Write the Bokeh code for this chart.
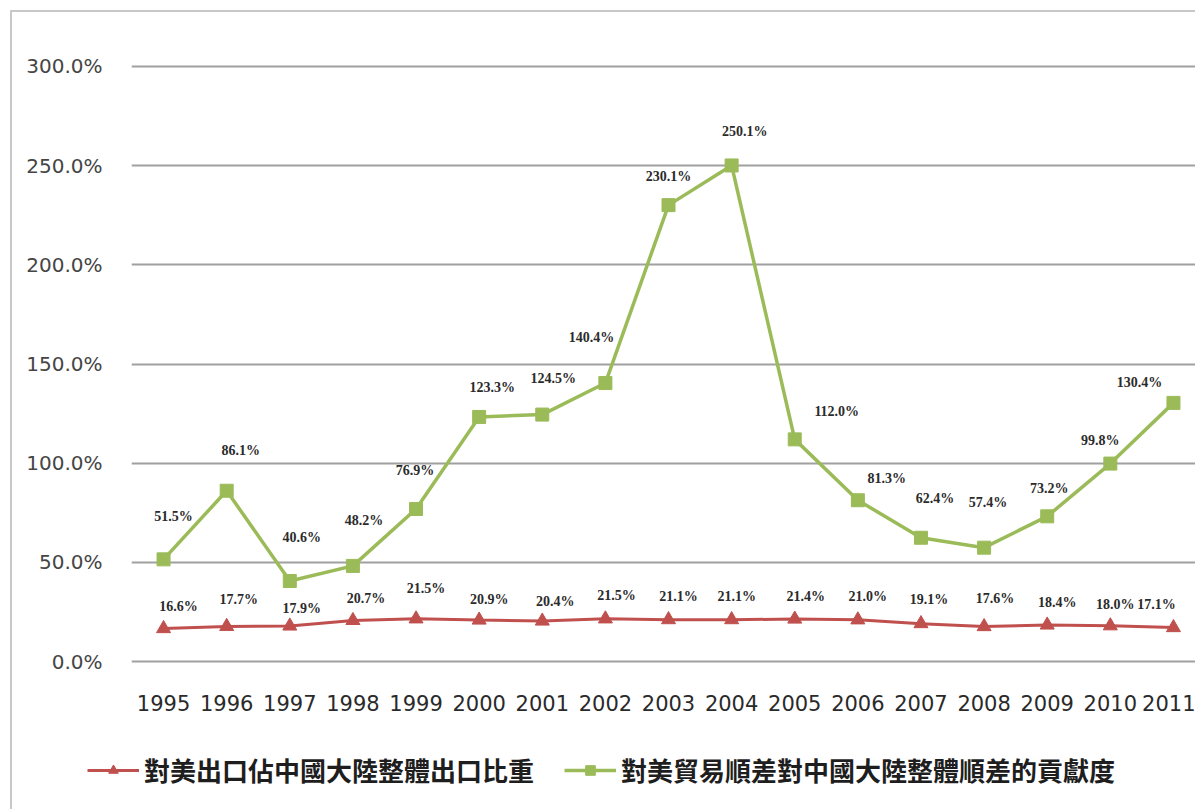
from bokeh.plotting import figure
from bokeh.models import (Range1d, FixedTicker, PrintfTickFormatter, Legend, LegendItem,
                          ColumnDataSource)
from bokeh.core.properties import value
from bokeh.embed import file_html
from bokeh.resources import INLINE

years = [1995, 1996, 1997, 1998, 1999, 2000, 2001, 2002, 2003, 2004, 2005, 2006,
         2007, 2008, 2009, 2010, 2011]
export_share = [16.6, 17.7, 17.9, 20.7, 21.5, 20.9, 20.4, 21.5, 21.1, 21.1, 21.4, 21.0,
                19.1, 17.6, 18.4, 18.0, 17.1]
surplus_contrib = [51.5, 86.1, 40.6, 48.2, 76.9, 123.3, 124.5, 140.4, 230.1, 250.1, 112.0,
                   81.3, 62.4, 57.4, 73.2, 99.8, 130.4]
y_ticks = [0, 50, 100, 150, 200, 250, 300]
series_names = ["對美出口佔中國大陸整體出口比重", "對美貿易順差對中國大陸整體順差的貢獻度"]

# label nudges (screen pixels), as placed in the original chart
red_dx = [15, 12, 12, 13, 10, 10, 13, 11, 10, 5, 11, 10, 8, 11, 10, 5, -17]
red_dy = [-22, -27, -18, -22, -30, -21, -20, -23, -23, -23, -23, -23, -24, -28, -23, -21, -23]
green_dx = [10, 14, 12, 11, -1, 13, 11, -14, 0, 13, 42, 29, 14, 4, 2, -10, -34]
green_dy = [-43, -40, -43, -45, -38, -29, -36, -46, -29, -34, -28, -22, -39, -45, -28, -23, -20]

RED = "#C0504D"
GREEN = "#9BBB59"
BOX = "2px solid #c8c8c8"

px_per_year = 63.0
x_start = 1995 - 32 / px_per_year
x_end = x_start + 1064 / px_per_year

# ---- main chart ----
p = figure(width=1185, height=722, output_backend="svg", toolbar_location=None,
           x_range=Range1d(x_start, x_end), y_range=Range1d(-1, 301),
           min_border_left=119, min_border_right=0, min_border_top=52,
           min_border_bottom=71)
p.styles = {"margin-left": "10px", "margin-top": "10px",
            "box-sizing": "border-box", "border-left": BOX, "border-top": BOX}
p.outline_line_color = None
p.background_fill_color = "white"
p.border_fill_color = "white"

p.xgrid.grid_line_color = None
p.ygrid.grid_line_color = "#a0a0a0"
p.ygrid.grid_line_width = 2
p.ygrid.ticker = FixedTicker(ticks=y_ticks)

p.yaxis.ticker = FixedTicker(ticks=y_ticks)
p.yaxis.formatter = PrintfTickFormatter(format="%.1f%%")
p.yaxis.axis_line_color = None
p.yaxis.major_tick_line_color = None
p.yaxis.minor_tick_line_color = None
p.yaxis.major_label_standoff = 23
p.yaxis.major_label_text_font = "DejaVu Sans"
p.yaxis.major_label_text_font_size = "20px"
p.yaxis.major_label_text_color = "#454545"

p.xaxis.ticker = FixedTicker(ticks=years)
p.xaxis.axis_line_color = None
p.xaxis.major_tick_line_color = None
p.xaxis.minor_tick_line_color = None
p.xaxis.major_label_standoff = 25
p.xaxis.major_label_text_font = "DejaVu Sans"
p.xaxis.major_label_text_font_size = "21px"
p.xaxis.major_label_text_color = "#2a2a2a"

src = ColumnDataSource(dict(
    x=years, red=export_share, green=surplus_contrib,
    red_lbl=[f"{v:.1f}%" for v in export_share],
    green_lbl=[f"{v:.1f}%" for v in surplus_contrib],
    red_dx=red_dx, red_dy=red_dy, green_dx=green_dx, green_dy=green_dy))

line_styles = [dict(line_color=RED, line_width=3), dict(line_color=GREEN, line_width=3.5)]
marker_styles = [dict(marker="triangle", size=14, fill_color=RED, line_color=RED),
                 dict(marker="square", size=13, fill_color=GREEN, line_color=GREEN)]
cols = ["red", "green"]

for i, c in enumerate(cols):
    p.line("x", c, source=src, **line_styles[i])
    p.scatter("x", c, source=src, **marker_styles[i])

label_style = dict(text_align="center", text_baseline="middle",
                   text_font=value("Liberation Serif"), text_font_size="14px",
                   text_font_style="bold", text_color="#2b2b2b")
for c in cols:
    p.text("x", c, text=f"{c}_lbl", source=src, x_offset=f"{c}_dx", y_offset=f"{c}_dy",
           **label_style)

# ---- legend strip (separate root, so its frame is not aligned to the chart's) ----
leg_src = ColumnDataSource(dict(x=years, red=export_share, green=surplus_contrib))
leg = figure(width=1185, height=77, output_backend="svg", toolbar_location=None,
             x_range=Range1d(0, 1), y_range=Range1d(0, 1),
             x_axis_location=None, y_axis_location=None,
             min_border=0, min_border_left=0, min_border_right=0,
             min_border_top=0, min_border_bottom=0)
leg.styles = {"margin-left": "10px", "box-sizing": "border-box", "border-left": BOX}
leg.outline_line_color = None
leg.xgrid.grid_line_color = None
leg.ygrid.grid_line_color = None
leg.background_fill_color = "white"
leg.border_fill_color = "white"

items = []
for i, c in enumerate(cols):
    # same series, kept outside this strip's view; only their legend glyphs show
    lr = leg.line("x", c, source=leg_src, **line_styles[i])
    sr = leg.scatter("x", c, source=leg_src, **marker_styles[i])
    items.append(LegendItem(label=series_names[i], renderers=[lr, sr]))

legend = Legend(items=items, location=(75, 21), orientation="horizontal",
                glyph_width=52, glyph_height=24, label_standoff=5, spacing=30,
                padding=0, margin=0, border_line_color=None,
                background_fill_alpha=0,
                label_text_font="Noto Sans CJK TC", label_text_font_size="26px",
                label_text_font_style="bold", label_text_color="#1e1e1e")
leg.add_layout(legend)

open("out.html", "w").write(file_html([p, leg], INLINE))
